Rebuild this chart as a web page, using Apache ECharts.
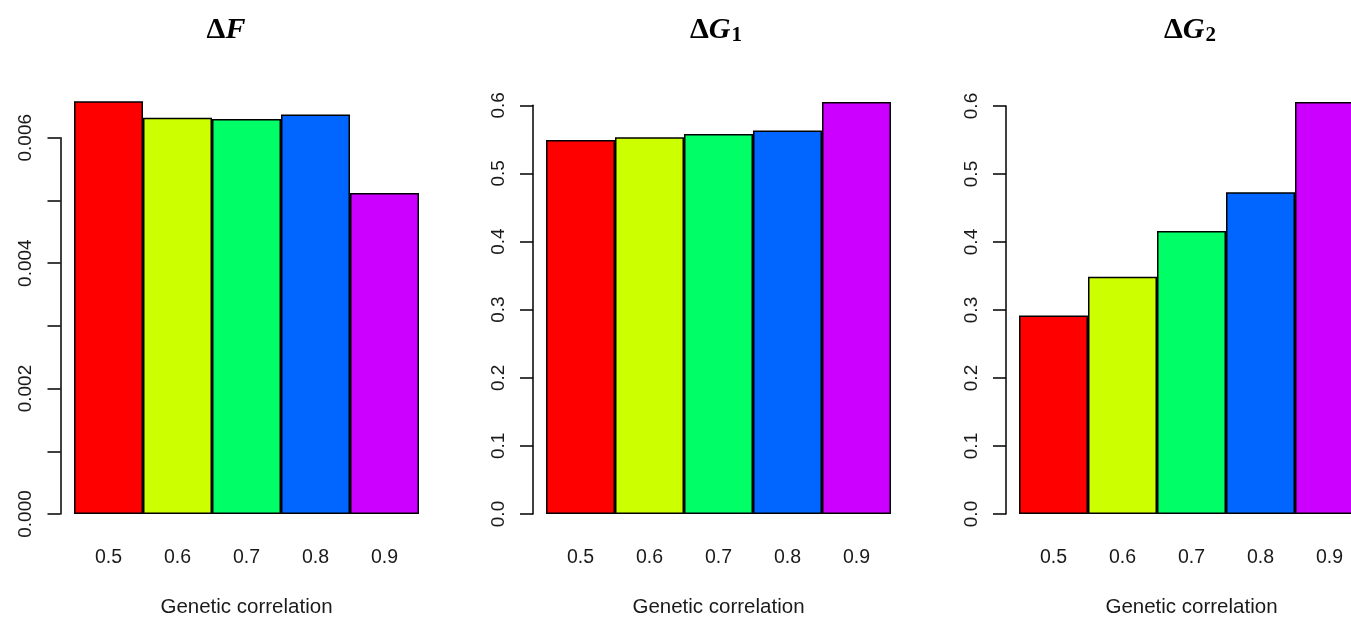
<!DOCTYPE html>
<html><head><meta charset="utf-8">
<script src="https://cdn.jsdelivr.net/npm/echarts@6/dist/echarts.min.js"></script>
<style>html,body{margin:0;padding:0;background:#fff}#c{width:1351px;height:618px}</style>
</head><body><div id="c"></div>
<script>
const categories = ['0.5', '0.6', '0.7', '0.8', '0.9'];
const barColors = ['#FF0000', '#CCFF00', '#00FF66', '#0066FF', '#CC00FF'];
const deltaF = [0.00658, 0.00632, 0.00630, 0.00637, 0.00512];
const deltaG1 = [0.549, 0.553, 0.558, 0.563, 0.605];
const deltaG2 = [0.292, 0.349, 0.416, 0.473, 0.606];
const axisMaxF = 0.006, axisStepF = 0.001, labelEveryF = 2;
const axisMaxG = 0.6, axisStepG = 0.1, labelEveryG = 1;
const xTitle = 'Genetic correlation';

const zeroY = 514, H = 618;
const panels = [
  { data: deltaF, axisMax: axisMaxF, step: axisStepF, every: labelEveryF, dec: 3, axisX: 60.5, barL: 74, barR: 419, topY: 137.7 },
  { data: deltaG1, axisMax: axisMaxG, step: axisStepG, every: labelEveryG, dec: 1, axisX: 533, barL: 546, barR: 891, topY: 105.3 },
  { data: deltaG2, axisMax: axisMaxG, step: axisStepG, every: labelEveryG, dec: 1, axisX: 1006, barL: 1019, barR: 1364, topY: 106 }
];
const textColor = '#1a1a1a';
const grid = [], xAxis = [], yAxis = [], series = [];
panels.forEach((p, i) => {
  const barMax = p.axisMax * 1.15;
  const barTop = zeroY - (zeroY - p.topY) * barMax / p.axisMax;
  grid.push({ left: p.axisX, width: 10, top: p.topY, bottom: H - zeroY, outerBoundsMode: 'none', containLabel: false });
  xAxis.push({ gridIndex: 2 * i, type: 'value', show: false });
  yAxis.push({
    gridIndex: 2 * i, type: 'value', min: 0, max: p.axisMax, interval: p.step,
    axisLine: { show: true, lineStyle: { color: '#000', width: 1.5 } },
    axisTick: { show: true, inside: false, length: 13, lineStyle: { color: '#000', width: 1.5 } },
    splitLine: { show: false },
    axisLabel: { rotate: 90, margin: 25, fontSize: 19, color: textColor, fontFamily: 'Liberation Sans',
      formatter: v => (Math.round(v / p.step) % p.every === 0 ? v.toFixed(p.dec) : '') }
  });
  grid.push({ left: p.barL, width: p.barR - p.barL, top: barTop, bottom: H - zeroY, outerBoundsMode: 'none', containLabel: false });
  xAxis.push({
    gridIndex: 2 * i + 1, type: 'category', data: categories,
    axisLine: { show: false }, axisTick: { show: false },
    axisLabel: { fontSize: 19.5, margin: 34, color: textColor, fontFamily: 'Liberation Sans' },
    name: xTitle, nameLocation: 'middle', nameGap: 83,
    nameTextStyle: { fontSize: 20.5, color: textColor, fontFamily: 'Liberation Sans' }
  });
  yAxis.push({ gridIndex: 2 * i + 1, type: 'value', min: 0, max: barMax, show: false, splitLine: { show: false } });
  series.push({
    type: 'bar', xAxisIndex: 2 * i + 1, yAxisIndex: 2 * i + 1,
    barCategoryGap: '0%', silent: true,
    data: p.data.map((v, k) => ({ value: v, itemStyle: { color: barColors[k] } })),
    itemStyle: { borderColor: '#000', borderWidth: 1.5 }
  });
});

const titleRich = {
  d: { fontFamily: 'Liberation Serif', fontWeight: 'bold', fontSize: 30, color: '#000' },
  i: { fontFamily: 'Liberation Serif', fontWeight: 'bold', fontStyle: 'italic', fontSize: 30, color: '#000' },
  s: { fontFamily: 'Liberation Serif', fontWeight: 'bold', fontSize: 21, color: '#000', padding: [10, 0, 0, 1] }
};
const titles = [
  { text: '{d|Δ}{i|F}', x: 221 },
  { text: '{d|Δ}{i|G}{s|1}', x: 711 },
  { text: '{d|Δ}{i|G}{s|2}', x: 1185 }
];
const chart = echarts.init(document.getElementById('c'), null, { renderer: 'canvas' });
chart.setOption({
  animation: false,
  backgroundColor: '#fff',
  title: titles.map(t => ({ text: t.text, left: t.x, top: 10, textAlign: 'center', textStyle: { rich: titleRich } })),
  grid, xAxis, yAxis, series
});
</script></body></html>
